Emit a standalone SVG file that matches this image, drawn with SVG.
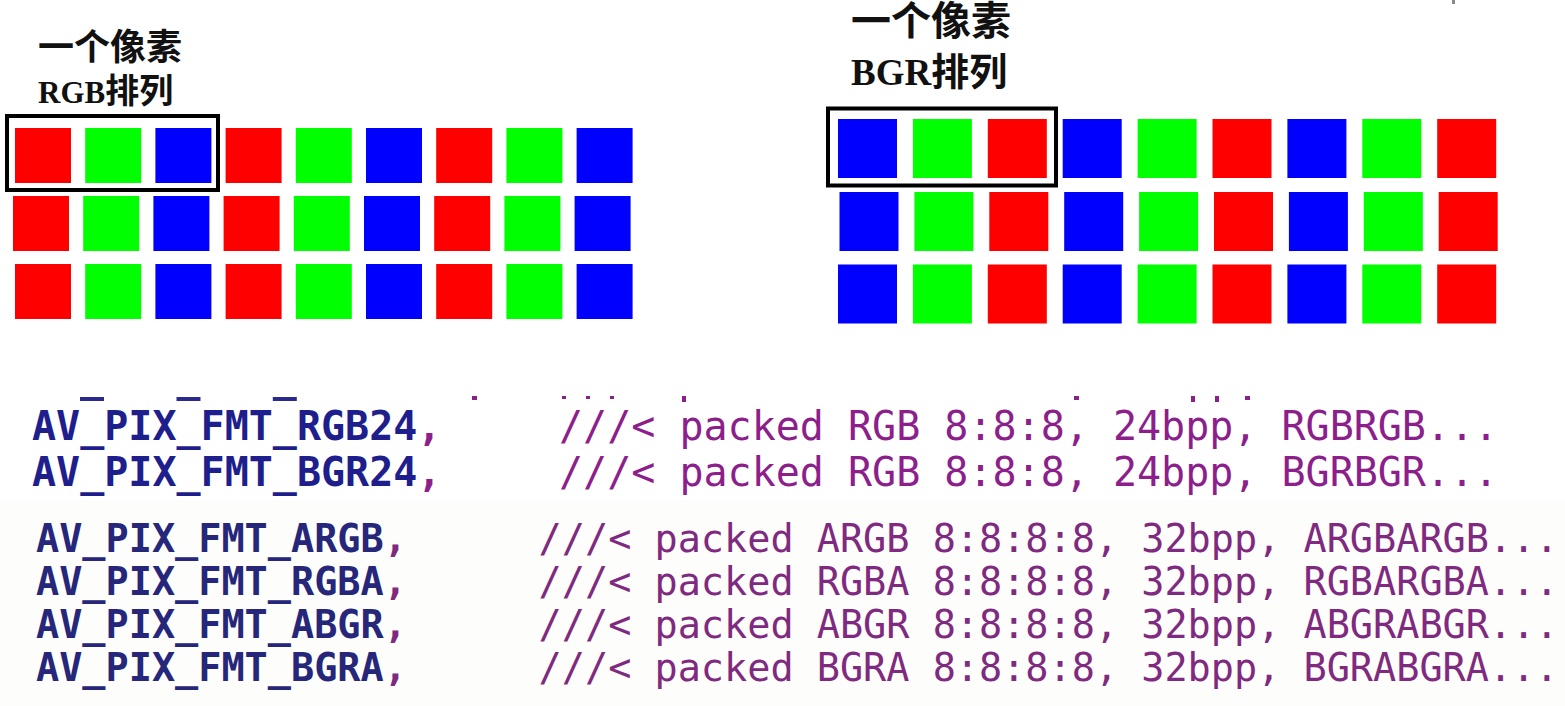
<svg xmlns="http://www.w3.org/2000/svg" xmlns:xlink="http://www.w3.org/1999/xlink" width="1565" height="706" viewBox="0 0 1565 706">
  <style>
    .r{fill:#ff0000}
    .g{fill:#00ff00}
    .b{fill:#0000ff}
    .box{fill:none;stroke:#000;stroke-width:4}
    .hd{font-family:"Liberation Serif","Noto Sans CJK SC",serif;font-weight:bold;fill:#111}
    .id{font-family:"DejaVu Sans Mono",monospace;font-weight:bold;fill:#1e1e8c}
    .cm{font-family:"DejaVu Sans Mono",monospace;fill:#8c1f8c}
    .id2{font-family:"DejaVu Sans Mono",monospace;font-weight:bold;fill:#26267a}
    .cm2{font-family:"DejaVu Sans Mono",monospace;fill:#7f2a80}
    .uf{fill:#2a2a8e}
    .pf{fill:#8c1f8c}
  </style>
  <defs>
    <g id="tripL">
      <rect class="r" x="0" y="0" width="56" height="55"/>
      <rect class="g" x="70.2" y="0" width="56" height="55"/>
      <rect class="b" x="140.4" y="0" width="56" height="55"/>
    </g>
    <g id="tripR">
      <rect class="b" x="0" y="0" width="59" height="59"/>
      <rect class="g" x="74.9" y="0" width="59" height="59"/>
      <rect class="r" x="149.8" y="0" width="59" height="59"/>
    </g>
  </defs>
  <rect x="0" y="0" width="1565" height="706" fill="#ffffff"/>
  <rect x="0" y="500" width="1565" height="206" fill="#fdfdfb"/>
  <rect x="1452" y="0" width="3" height="4" fill="#8a8a8a"/>

  <g id="rgb-panel">
    <text class="hd" x="38" y="60" font-size="36">一个像素</text>
    <text class="hd" x="38" y="103" font-size="34"><tspan font-size="31">RGB</tspan>排列</text>
    <g id="rgb-grid">
      <use xlink:href="#tripL" x="15" y="128"/>
      <use xlink:href="#tripL" x="225.6" y="128"/>
      <use xlink:href="#tripL" x="436.2" y="128"/>
      <use xlink:href="#tripL" x="13" y="196"/>
      <use xlink:href="#tripL" x="223.6" y="196"/>
      <use xlink:href="#tripL" x="434.2" y="196"/>
      <use xlink:href="#tripL" x="15" y="264"/>
      <use xlink:href="#tripL" x="225.6" y="264"/>
      <use xlink:href="#tripL" x="436.2" y="264"/>
    </g>
    <rect id="rgb-pixel-box" class="box" x="7" y="116" width="211" height="74"/>
  </g>

  <g id="bgr-panel">
    <text class="hd" x="851" y="35" font-size="40">一个像素</text>
    <text class="hd" x="851" y="85" font-size="38"><tspan font-size="37">BGR</tspan>排列</text>
    <g id="bgr-grid">
      <use xlink:href="#tripR" x="838" y="119"/>
      <use xlink:href="#tripR" x="1062.7" y="119"/>
      <use xlink:href="#tripR" x="1287.4" y="119"/>
      <use xlink:href="#tripR" x="839.5" y="192"/>
      <use xlink:href="#tripR" x="1064.2" y="192"/>
      <use xlink:href="#tripR" x="1288.9" y="192"/>
      <use xlink:href="#tripR" x="838" y="264.5"/>
      <use xlink:href="#tripR" x="1062.7" y="264.5"/>
      <use xlink:href="#tripR" x="1287.4" y="264.5"/>
    </g>
    <rect id="bgr-pixel-box" class="box" x="828" y="108.5" width="228" height="77"/>
  </g>

  <g id="code-24bpp">
    <g id="cut-line-fragments">
      <rect class="uf" x="80" y="397" width="24" height="4"/>
      <rect class="uf" x="176.5" y="397" width="24" height="4"/>
      <rect class="uf" x="272.8" y="397" width="24" height="4"/>
      <rect class="pf" x="472" y="396" width="5" height="4"/>
      <rect class="pf" x="562" y="396" width="4" height="3"/>
      <rect class="pf" x="586" y="396" width="4" height="3"/>
      <rect class="pf" x="610" y="396" width="4" height="3"/>
      <rect class="pf" x="682" y="396" width="4" height="6"/>
      <rect class="pf" x="1074" y="396" width="5" height="4"/>
      <rect class="pf" x="1191" y="396" width="4" height="6"/>
      <rect class="pf" x="1215" y="396" width="4" height="6"/>
      <rect class="pf" x="1245" y="396" width="5" height="4"/>
    </g>
    <text class="id" x="32" y="440" font-size="40">AV_PIX_FMT_RGB24<tspan fill="#8c1f8c">,</tspan></text>
    <text class="cm" x="559" y="440" font-size="40">///&lt; packed RGB 8:8:8, 24bpp, RGBRGB...</text>
    <text class="id" x="32" y="486" font-size="40">AV_PIX_FMT_BGR24<tspan fill="#8c1f8c">,</tspan></text>
    <text class="cm" x="559" y="486" font-size="40">///&lt; packed RGB 8:8:8, 24bpp, BGRBGR...</text>
  </g>

  <g id="code-32bpp">
    <text class="id2" x="36" y="551.5" font-size="38.5">AV_PIX_FMT_ARGB<tspan fill="#7f2a80">,</tspan></text>
    <text class="cm2" x="538.6" y="551.5" font-size="38.5">///&lt; packed ARGB 8:8:8:8, 32bpp, ARGBARGB...</text>
    <text class="id2" x="36" y="594.5" font-size="38.5">AV_PIX_FMT_RGBA<tspan fill="#7f2a80">,</tspan></text>
    <text class="cm2" x="538.6" y="594.5" font-size="38.5">///&lt; packed RGBA 8:8:8:8, 32bpp, RGBARGBA...</text>
    <text class="id2" x="36" y="637.5" font-size="38.5">AV_PIX_FMT_ABGR<tspan fill="#7f2a80">,</tspan></text>
    <text class="cm2" x="538.6" y="637.5" font-size="38.5">///&lt; packed ABGR 8:8:8:8, 32bpp, ABGRABGR...</text>
    <text class="id2" x="36" y="680.5" font-size="38.5">AV_PIX_FMT_BGRA<tspan fill="#7f2a80">,</tspan></text>
    <text class="cm2" x="538.6" y="680.5" font-size="38.5">///&lt; packed BGRA 8:8:8:8, 32bpp, BGRABGRA...</text>
  </g>
</svg>
